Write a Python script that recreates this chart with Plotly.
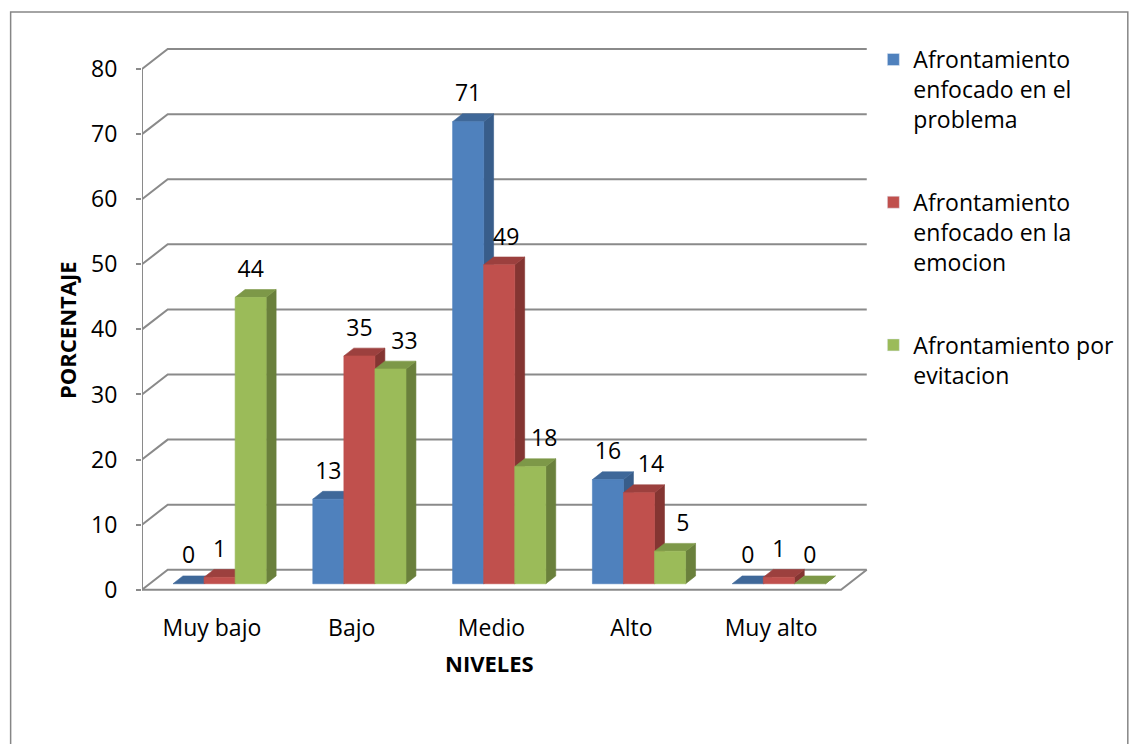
import plotly.graph_objects as go

# ---------------- data ----------------
categories = ["Muy bajo", "Bajo", "Medio", "Alto", "Muy alto"]
series_names = [
    "Afrontamiento<br>enfocado en el<br>problema",
    "Afrontamiento<br>enfocado en la<br>emocion",
    "Afrontamiento por<br>evitacion",
]
problema = [0, 13, 71, 16, 0]
emocion = [1, 35, 49, 14, 1]
evitacion = [44, 33, 18, 5, 0]
y_ticks = [0, 10, 20, 30, 40, 50, 60, 70, 80]

# ---------------- style ----------------
front_colors = ["#4F81BD", "#C0504D", "#9BBB59"]
top_colors = ["#3F6899", "#9C403E", "#7D9848"]
side_colors = ["#385D8A", "#843532", "#6A803C"]
grid_color = "#8A8A8A"
FONT = "Open Sans"

BAR_W = 2 / 9          # width of one bar (category units)
SHIFT_X, SHIFT_Y = 0.055, 0.92   # bar placed in middle of floor depth
DEPTH_X, DEPTH_Y = 0.071, 1.2    # bar depth
FLOOR_X, FLOOR_Y = 0.184, 3.07   # wall / floor depth
X_MIN, X_MAX = -0.5, 4.5
LABEL_GAP = 2.8
# horizontal nudges of data labels (category units), as placed in the original
label_nudge = [
    [0, 0, 0, 0, 0],
    [0, 0, 0.05, 0.085, 0],
    [0, 0.1, 0.1, 0.092, 0],
]

series = [problema, emocion, evitacion]
fig = go.Figure()


def poly(xs, ys, color):
    fig.add_trace(go.Scatter(
        x=xs + [xs[0]], y=ys + [ys[0]], mode="lines", fill="toself",
        fillcolor=color, line=dict(color=color, width=0.6),
        hoverinfo="skip", showlegend=False))


def line(xs, ys):
    fig.add_trace(go.Scatter(
        x=xs, y=ys, mode="lines", line=dict(color=grid_color, width=2),
        hoverinfo="skip", showlegend=False))


# back wall gridlines with left-wall diagonals
for v in y_ticks:
    line([X_MIN, X_MIN + FLOOR_X, X_MAX + FLOOR_X], [v, v + FLOOR_Y, v + FLOOR_Y])
# floor front edge and right edge
line([X_MIN, X_MAX, X_MAX + FLOOR_X], [0, 0, FLOOR_Y])
# vertical value axis
line([X_MIN, X_MIN], [0, y_ticks[-1]])

# 3D bars
n = len(series)
for i in range(len(categories)):
    for k in range(n):
        v = series[k][i]
        x0 = i + (k - (n - 1) / 2) * BAR_W - BAR_W / 2 + SHIFT_X
        x1 = x0 + BAR_W
        b = SHIFT_Y
        t = v + SHIFT_Y
        # side face
        poly([x1, x1 + DEPTH_X, x1 + DEPTH_X, x1],
             [b, b + DEPTH_Y, t + DEPTH_Y, t], side_colors[k])
        # top face
        poly([x0, x1, x1 + DEPTH_X, x0 + DEPTH_X],
             [t, t, t + DEPTH_Y, t + DEPTH_Y], top_colors[k])
        # front face
        if v > 0:
            poly([x0, x1, x1, x0], [b, b, t, t], front_colors[k])

# data labels
for k in range(n):
    xs = [i + (k - (n - 1) / 2) * BAR_W + SHIFT_X + label_nudge[k][i]
          for i in range(len(categories))]
    ys = [v + SHIFT_Y + DEPTH_Y + LABEL_GAP for v in series[k]]
    fig.add_trace(go.Scatter(
        x=xs, y=ys, mode="text", text=[str(v) for v in series[k]],
        textposition="middle center",
        textfont=dict(family=FONT, size=23, color="#000000"),
        hoverinfo="skip", showlegend=False, cliponaxis=False))

# legend entries
for k in range(n):
    fig.add_trace(go.Bar(x=[None], y=[None], name=series_names[k],
                         marker=dict(color=front_colors[k]),
                         legendgroup="g%d" % k, showlegend=True))

# outer chart border
fig.add_shape(type="rect", xref="paper", yref="paper",
              x0=-0.1807, x1=1.356, y0=-0.3036, y1=1.0564,
              line=dict(color="#868686", width=1.5), fillcolor="rgba(0,0,0,0)",
              layer="below")

# axis titles
fig.add_annotation(text="<b>PORCENTAJE</b>", xref="paper", yref="paper",
                   x=-0.1033, y=0.478, textangle=-90, showarrow=False,
                   xanchor="center", yanchor="middle",
                   font=dict(family=FONT, size=22, color="#000000"))
fig.add_annotation(text="<b>NIVELES</b>", xref="paper", yref="paper",
                   x=0.478, y=-0.127, showarrow=False,
                   xanchor="center", yanchor="middle",
                   font=dict(family=FONT, size=22, color="#000000"))

fig.update_layout(
    width=1131, height=744,
    margin=dict(l=142, r=253, t=43, b=151),
    paper_bgcolor="white", plot_bgcolor="white",
    font=dict(family=FONT, size=23, color="#000000"),
    showlegend=True,
    legend=dict(x=1.006, y=1.009, xanchor="left", yanchor="top",
                font=dict(family=FONT, size=23, color="#000000"),
                valign="top", tracegroupgap=50, traceorder="grouped",
                bgcolor="rgba(0,0,0,0)", itemwidth=30),
    xaxis=dict(range=[X_MIN, X_MAX + 0.2],
               tickvals=list(range(len(categories))), ticktext=categories,
               showgrid=False, zeroline=False, showline=False,
               ticks="outside", ticklen=14, tickcolor="rgba(0,0,0,0)",
               tickfont=dict(family=FONT, size=23, color="#000000")),
    yaxis=dict(range=[-0.5, 84], tickvals=y_ticks,
               showgrid=False, zeroline=False, showline=False,
               ticks="outside", ticklen=5, tickwidth=2, tickcolor=grid_color,
               ticklabelstandoff=14,
               tickfont=dict(family=FONT, size=23, color="#000000")),
)

fig.write_html("out.html")
